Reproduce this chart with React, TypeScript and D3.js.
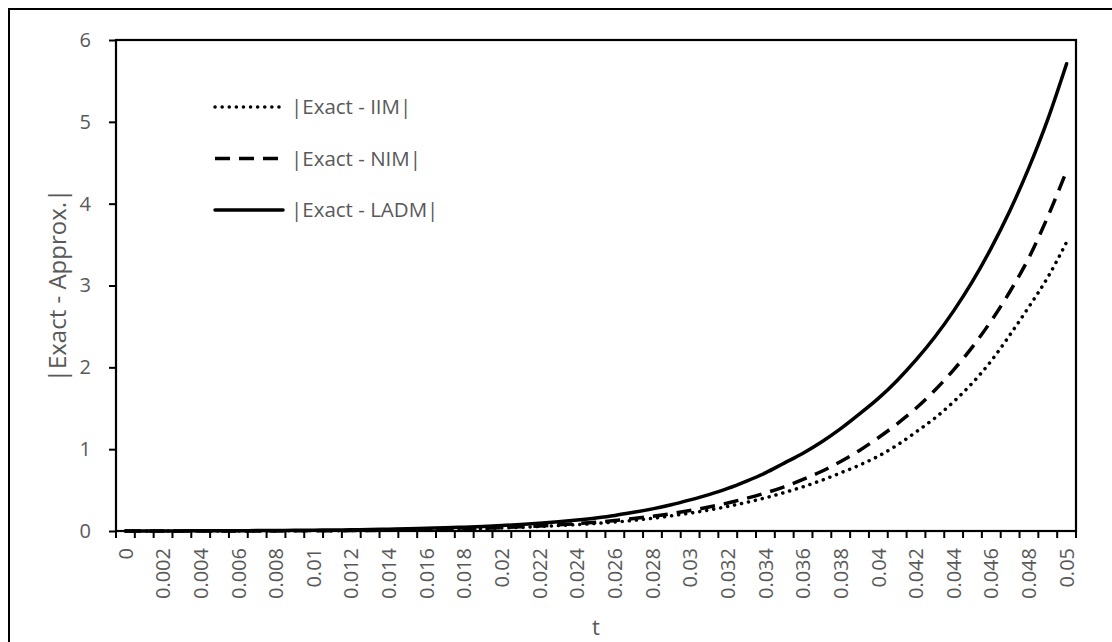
import React, { useRef, useEffect } from "react";
import * as d3 from "d3";

// t categories (one per 0.001)
const T = [
  0, 0.001, 0.002, 0.003, 0.004, 0.005, 0.006, 0.007, 0.008, 0.009, 0.01,
  0.011, 0.012, 0.013, 0.014, 0.015, 0.016, 0.017, 0.018, 0.019, 0.02, 0.021,
  0.022, 0.023, 0.024, 0.025, 0.026, 0.027, 0.028, 0.029, 0.03, 0.031, 0.032,
  0.033, 0.034, 0.035, 0.036, 0.037, 0.038, 0.039, 0.04, 0.041, 0.042, 0.043,
  0.044, 0.045, 0.046, 0.047, 0.048, 0.049, 0.05,
];

// |Exact - IIM|
const IIM = [
  0, 0, 0.0001, 0.0002, 0.0003, 0.0005, 0.0007, 0.001, 0.0015, 0.002, 0.003,
  0.004, 0.005, 0.007, 0.009, 0.012, 0.015, 0.019, 0.024, 0.03, 0.037, 0.045,
  0.055, 0.066, 0.078, 0.092, 0.11, 0.13, 0.155, 0.185, 0.218, 0.256, 0.3,
  0.35, 0.405, 0.47, 0.54, 0.62, 0.71, 0.805, 0.915, 1.05, 1.21, 1.38, 1.58,
  1.81, 2.08, 2.4, 2.74, 3.1, 3.53,
];

// |Exact - NIM|
const NIM = [
  0, 0, 0.0001, 0.0002, 0.0003, 0.0005, 0.0007, 0.001, 0.0015, 0.002, 0.003,
  0.004, 0.005, 0.007, 0.009, 0.012, 0.016, 0.02, 0.026, 0.033, 0.041, 0.051,
  0.062, 0.075, 0.09, 0.108, 0.128, 0.152, 0.18, 0.212, 0.25, 0.293, 0.342,
  0.4, 0.465, 0.54, 0.63, 0.73, 0.85, 0.985, 1.14, 1.31, 1.5, 1.72, 1.97, 2.25,
  2.57, 2.93, 3.34, 3.84, 4.4,
];

// |Exact - LADM|
const LADM = [
  0, 0.0005, 0.001, 0.0015, 0.002, 0.003, 0.004, 0.005, 0.006, 0.008, 0.01,
  0.012, 0.015, 0.018, 0.022, 0.027, 0.033, 0.039, 0.047, 0.056, 0.067, 0.08,
  0.095, 0.113, 0.135, 0.16, 0.19, 0.228, 0.27, 0.32, 0.38, 0.445, 0.52, 0.61,
  0.71, 0.83, 0.95, 1.09, 1.25, 1.43, 1.62, 1.84, 2.09, 2.37, 2.69, 3.05, 3.46,
  3.92, 4.44, 5.03, 5.71,
];

const Y_TICKS = [0, 1, 2, 3, 4, 5, 6];

const FONT = "'Open Sans', 'Noto Sans', sans-serif";
const GREY = "#595959";

const Chart = ({ width = 1112, height = 642 }) => {
  const ref = useRef<SVGSVGElement>(null);

  useEffect(() => {
    const el = ref.current;
    if (!el) return;
    d3.select(el).selectChildren().remove();

    const plot = { left: 116, top: 40, right: 1076, bottom: 531 };
    const svg = d3.select(el).style("font-family", FONT);

    // outer chart border (runs off the right/bottom of the frame)
    svg
      .append("rect")
      .attr("x", 9)
      .attr("y", 9)
      .attr("width", width + 50)
      .attr("height", height + 50)
      .attr("fill", "#fff")
      .attr("stroke", "#000")
      .attr("stroke-width", 2);

    const x = d3
      .scaleBand()
      .domain(T.map(String))
      .range([plot.left, plot.right])
      .padding(0);
    const bw = x.bandwidth();
    const y = d3
      .scaleLinear()
      .domain([0, 6])
      .range([plot.bottom, plot.top]);

    // Y axis
    const yAxis = svg
      .append("g")
      .attr("transform", `translate(${plot.left},0)`)
      .call(
        d3
          .axisLeft(y)
          .tickValues(Y_TICKS)
          .tickSize(7)
          .tickPadding(18)
          .tickFormat(d3.format("d"))
      );
    yAxis.select(".domain").remove();
    yAxis.selectAll("line").attr("stroke", "#000").attr("stroke-width", 2);
    yAxis
      .selectAll("text")
      .attr("fill", GREY)
      .style("font-size", "20px")
      .style("font-family", FONT);

    // X ticks at category boundaries
    const bounds = T.map((t) => x(String(t)) as number).concat(plot.right);
    svg
      .append("g")
      .selectAll("line")
      .data(bounds)
      .enter()
      .append("line")
      .attr("x1", (d) => d)
      .attr("x2", (d) => d)
      .attr("y1", plot.bottom)
      .attr("y2", plot.bottom + 7)
      .attr("stroke", "#000")
      .attr("stroke-width", 2);

    // X labels, every other category, rotated
    svg
      .append("g")
      .selectAll("text")
      .data(T.filter((_, i) => i % 2 === 0))
      .enter()
      .append("text")
      .attr(
        "transform",
        (t) => `translate(${(x(String(t)) as number) + bw / 2},${plot.bottom + 17}) rotate(-90)`
      )
      .attr("text-anchor", "end")
      .attr("dy", "0.36em")
      .attr("fill", GREY)
      .style("font-size", "20px")
      .text((t) => String(t));

    // plot area border
    svg
      .append("rect")
      .attr("x", plot.left)
      .attr("y", plot.top)
      .attr("width", plot.right - plot.left)
      .attr("height", plot.bottom - plot.top)
      .attr("fill", "none")
      .attr("stroke", "#000")
      .attr("stroke-width", 2.2);

    const series = [
      { name: "|Exact - IIM|", values: IIM, dash: "0.1 7", cap: "round" },
      { name: "|Exact - NIM|", values: NIM, dash: "15 9", cap: "butt" },
      { name: "|Exact - LADM|", values: LADM, dash: null, cap: "round" },
    ];

    const line = d3
      .line<number>()
      .x((_, i) => (x(String(T[i])) as number) + bw / 2)
      .y((d) => y(d))
      .curve(d3.curveMonotoneX);

    svg
      .append("g")
      .selectAll("path")
      .data(series)
      .enter()
      .append("path")
      .attr("d", (s) => line(s.values))
      .attr("fill", "none")
      .attr("stroke", "#000")
      .attr("stroke-width", 3.5)
      .attr("stroke-linecap", (s) => s.cap)
      .attr("stroke-dasharray", (s) => s.dash);

    // legend
    const legend = svg
      .append("g")
      .selectAll("g")
      .data(series)
      .enter()
      .append("g")
      .attr("transform", (_, i) => `translate(215,${107 + i * 51.5})`);
    legend
      .append("line")
      .attr("x1", 0)
      .attr("x2", 68)
      .attr("stroke", "#000")
      .attr("stroke-width", 3.5)
      .attr("stroke-linecap", (s) => s.cap)
      .attr("stroke-dasharray", (s) => s.dash);
    legend
      .append("text")
      .attr("x", 76)
      .attr("dy", "0.36em")
      .attr("fill", GREY)
      .style("font-size", "20.5px")
      .text((s) => s.name);

    // axis titles
    svg
      .append("text")
      .attr("transform", `translate(57,${(plot.top + plot.bottom) / 2}) rotate(-90)`)
      .attr("text-anchor", "middle")
      .attr("dy", "0.36em")
      .attr("fill", GREY)
      .style("font-size", "24px")
      .text("|Exact - Approx.|");

    svg
      .append("text")
      .attr("x", (plot.left + plot.right) / 2)
      .attr("y", 627)
      .attr("text-anchor", "middle")
      .attr("dy", "0.36em")
      .attr("fill", GREY)
      .style("font-size", "22px")
      .text("t");
  }, [width, height]);

  return (
    <svg
      ref={ref}
      width={width}
      height={height}
      style={{ position: "fixed", left: 0, top: 0, display: "block" }}
    />
  );
};

export default function App() {
  return <Chart />;
}
